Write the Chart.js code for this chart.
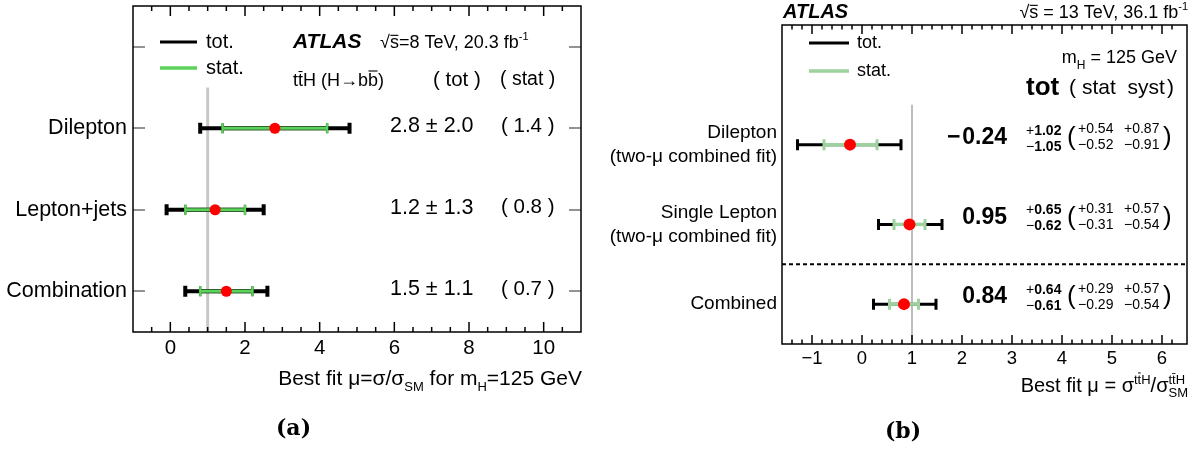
<!DOCTYPE html>
<html>
<head>
<meta charset="utf-8">
<script src="https://cdn.jsdelivr.net/npm/chart.js@4.4.0/dist/chart.umd.min.js"></script>
<style>
  body { margin: 0; background: #fff; }
  .panel { position: absolute; top: 0; height: 450px; }
  #pa { left: 0; width: 600px; }
  #pb { left: 600px; width: 603px; }
</style>
</head>
<body>
<div class="panel" id="pa"><canvas id="chartA"></canvas></div>
<div class="panel" id="pb"><canvas id="chartB"></canvas></div>
<script>
// ttH (H->bb) at 8 TeV
const catsA = ['Dilepton', 'Lepton+jets', 'Combination']
const muA = [2.8, 1.2, 1.5]
const totA = [2.0, 1.3, 1.1]
const statA = [1.4, 0.8, 0.7]
const ticksA = [0, 2, 4, 6, 8, 10]

// ttH at 13 TeV, two-mu combined fit
const catsB = [['Dilepton', '(two-μ combined fit)'], ['Single Lepton', '(two-μ combined fit)'], 'Combined']
const muB = [-0.24, 0.95, 0.84]
const totUpB = [1.02, 0.65, 0.64]
const totDnB = [1.05, 0.62, 0.61]
const statUpB = [0.54, 0.31, 0.29]
const statDnB = [0.52, 0.31, 0.29]
const systUpB = [0.87, 0.57, 0.57]
const systDnB = [0.91, 0.54, 0.54]
const ticksB = [-1, 0, 1, 2, 3, 4, 5, 6]

const FAM = '"Liberation Sans", Arial, Helvetica, sans-serif'
Chart.defaults.font.family = FAM
Chart.defaults.color = '#000'

const minus = v => (v < 0 ? '\u2212\u200A' : '') + Math.abs(v).toFixed(2)

function text(ctx, s, x, y, size, opts = {}) {
  ctx.font = `${opts.w || ''} ${size}px ${opts.fam || FAM}`
  ctx.textAlign = opts.align || 'left'
  ctx.textBaseline = 'middle'
  ctx.fillStyle = '#000'
  ctx.fillText(s, x, y)
}

// rich text: parts = {t, s, w, dy, bar, keep}; y is the middle of the main line
function rich(ctx, parts, x, y, align) {
  let total = 0, prevW = 0
  for (const p of parts) {
    ctx.font = `${p.w || ''} ${p.s}px ${FAM}`
    p._w = ctx.measureText(p.t).width
    p._x = total
    if (p.keep) { prevW = p._w; continue }
    total += prevW ? Math.max(prevW, p._w) : p._w
    prevW = 0
  }
  const x0 = align === 'right' ? x - total : align === 'center' ? x - total / 2 : x
  const base = y + parts[0].s * 0.35
  ctx.textAlign = 'left'
  ctx.textBaseline = 'alphabetic'
  ctx.fillStyle = '#000'
  ctx.strokeStyle = '#000'
  for (const p of parts) {
    ctx.font = `${p.w || ''} ${p.s}px ${FAM}`
    const py = base + (p.dy || 0)
    ctx.fillText(p.t, x0 + p._x, py)
    if (p.bar) {
      ctx.lineWidth = Math.max(1, p.s / 16)
      ctx.beginPath()
      ctx.moveTo(x0 + p._x + 0.5, py - p.s * p.bar)
      ctx.lineTo(x0 + p._x + p._w - 0.5, py - p.s * p.bar)
      ctx.stroke()
    }
  }
}

function errBar(ctx, xs, ys, lo, hi, row, color, lw, cap, capW) {
  const y = ys.getPixelForValue(row)
  const x0 = xs.getPixelForValue(lo)
  const x1 = xs.getPixelForValue(hi)
  ctx.save()
  ctx.strokeStyle = color
  ctx.lineWidth = lw
  ctx.beginPath()
  ctx.moveTo(x0, y)
  ctx.lineTo(x1, y)
  ctx.stroke()
  ctx.lineWidth = capW
  ctx.beginPath()
  ctx.moveTo(x0, y - cap); ctx.lineTo(x0, y + cap)
  ctx.moveTo(x1, y - cap); ctx.lineTo(x1, y + cap)
  ctx.stroke()
  ctx.restore()
}

// inward tick marks along the top and bottom edges of the plot box
function xTickMarks(chart, o) {
  const ctx = chart.ctx
  const a = chart.chartArea
  const xs = chart.scales.x
  ctx.save()
  ctx.strokeStyle = '#000'
  ctx.lineWidth = 1.5
  const n = Math.round((o.max - o.min) / o.minor)
  for (let k = 1; k < n; k++) {
    const v = o.min + k * o.minor
    const px = xs.getPixelForValue(v)
    const major = Math.abs(v / o.major - Math.round(v / o.major)) < 1e-6
    const len = major ? o.majLen : o.minLen
    ctx.beginPath()
    ctx.moveTo(px, a.bottom)
    ctx.lineTo(px, a.bottom - len)
    ctx.stroke()
    ctx.beginPath()
    ctx.moveTo(px, a.top)
    ctx.lineTo(px, a.top + len)
    ctx.stroke()
  }
  ctx.restore()
}

// box frame, with optional row ticks on the left/right edges
function frame(chart, o) {
  const ctx = chart.ctx
  const a = chart.chartArea
  const ys = chart.scales.y
  ctx.save()
  if (o.yTicks) {
    ctx.fillStyle = '#666'
    for (const r of o.yTicks) {
      const py = Math.round(ys.getPixelForValue(r))
      ctx.fillRect(a.left, py - 0.7, o.yLen, 1.4)
      ctx.fillRect(a.right - o.yLen, py - 0.7, o.yLen, 1.4)
    }
  }
  ctx.strokeStyle = '#000'
  ctx.lineWidth = 1.5
  ctx.strokeRect(a.left, a.top, a.right - a.left, a.bottom - a.top)
  ctx.restore()
}

function baseOptions(o) {
  return {
    responsive: true,
    maintainAspectRatio: false,
    animation: false,
    events: [],
    layout: { padding: o.padding },
    plugins: { legend: { display: false }, tooltip: { enabled: false } },
    scales: {
      x: {
        type: 'linear', min: o.xMin, max: o.xMax,
        afterBuildTicks: s => { s.ticks = o.xTicks.map(v => ({ value: v })) },
        afterFit: s => { s.height = o.xHeight; s.paddingLeft = 0; s.paddingRight = 0 },
        grid: { display: false, drawTicks: false },
        border: { display: false },
        ticks: {
          font: { size: o.xFont }, color: '#000', padding: o.xPad, maxRotation: 0, autoSkip: false,
          callback: v => (v < 0 ? '\u2212' + Math.abs(v) : String(v))
        }
      },
      y: {
        type: 'linear', min: -0.5, max: 3.5,
        afterBuildTicks: s => { s.ticks = o.cats.map((c, i) => ({ value: o.cats.length - 1 - i })) },
        afterFit: s => { s.width = o.yWidth; s.paddingTop = 0; s.paddingBottom = 0 },
        grid: { display: false, drawTicks: false },
        border: { display: false },
        ticks: {
          font: { size: o.yFont, lineHeight: o.yLine }, color: '#000', padding: o.yPad, autoSkip: false,
          callback: v => o.cats[o.cats.length - 1 - v]
        }
      }
    }
  }
}

function points(mu, r) {
  return [{
    data: mu.map((m, i) => ({ x: m, y: mu.length - 1 - i })),
    backgroundColor: '#ff0000', borderColor: '#ff0000', borderWidth: 0,
    pointRadius: r, pointHoverRadius: r
  }]
}

// ---------- panel (a) ----------
const rowA = i => catsA.length - 1 - i
new Chart(document.getElementById('chartA'), {
  type: 'scatter',
  data: { datasets: points(muA, 5.5) },
  options: baseOptions({
    padding: { left: 0, right: 19, top: 6, bottom: 0 },
    xMin: -1, xMax: 11, xTicks: ticksA, xHeight: 118, xFont: 20.5, xPad: 4,
    cats: catsA, yWidth: 133, yFont: 21.5, yLine: 1.2, yPad: 6
  }),
  plugins: [{
    id: 'muA',
    beforeDatasetsDraw(chart) {
      const { ctx, scales: { x, y } } = chart
      ctx.save()
      ctx.strokeStyle = '#c8c8c8'
      ctx.lineWidth = 3
      ctx.beginPath()
      ctx.moveTo(x.getPixelForValue(1), y.getPixelForValue(2.5))
      ctx.lineTo(x.getPixelForValue(1), y.getPixelForValue(-0.5))
      ctx.stroke()
      ctx.restore()
      catsA.forEach((c, i) => {
        errBar(ctx, x, y, muA[i] - totA[i], muA[i] + totA[i], rowA(i), '#000', 4, 5.5, 4)
        errBar(ctx, x, y, muA[i] - statA[i], muA[i] + statA[i], rowA(i), '#2a6e2a', 4, 5, 2.5)
        errBar(ctx, x, y, muA[i] - statA[i], muA[i] + statA[i], rowA(i), '#5bd35b', 2.5, 5, 2)
      })
    },
    afterDraw(chart) {
      const { ctx, scales: { y } } = chart
      xTickMarks(chart, { min: -1, max: 11, minor: 0.5, major: 2, majLen: 10, minLen: 5 })
      frame(chart, { yTicks: [0, 1, 2, 3], yLen: 12 })
      ctx.save()
      // legend
      ctx.lineWidth = 3
      ctx.strokeStyle = '#000'
      ctx.beginPath(); ctx.moveTo(160, 42); ctx.lineTo(197, 42); ctx.stroke()
      ctx.strokeStyle = '#5bd35b'
      ctx.lineWidth = 3.5
      ctx.beginPath(); ctx.moveTo(160, 68); ctx.lineTo(197, 68); ctx.stroke()
      text(ctx, 'tot.', 206, 42, 20)
      text(ctx, 'stat.', 206, 68, 20)
      text(ctx, 'ATLAS', 293, 42, 21, { w: 'italic bold' })
      rich(ctx, [
        { t: '\u221A', s: 18 }, { t: 's', s: 18, bar: 0.72 },
        { t: '=8 TeV, 20.3 fb', s: 18 }, { t: '-1', s: 11, dy: -8 }
      ], 380, 42)
      rich(ctx, [
        { t: 't', s: 18 }, { t: 't', s: 18, bar: 0.82 }, { t: 'H (H\u2192b', s: 18 },
        { t: 'b', s: 18, bar: 0.85 }, { t: ')', s: 18 }
      ], 293, 80)
      text(ctx, '( tot )', 433, 80, 20.5)
      text(ctx, '( stat )', 500, 80, 19.5)
      catsA.forEach((c, i) => {
        const py = y.getPixelForValue(rowA(i)) - 2
        text(ctx, `${muA[i].toFixed(1)} \u00B1 ${totA[i].toFixed(1)}`, 390, py, 21.5)
        text(ctx, `( ${statA[i].toFixed(1)} )`, 501, py, 20.5)
      })
      rich(ctx, [
        { t: 'Best fit \u03BC=\u03C3/\u03C3', s: 21 }, { t: 'SM', s: 13, dy: 6 },
        { t: ' for m', s: 21 }, { t: 'H', s: 13, dy: 6 }, { t: '=125 GeV', s: 21 }
      ], 582, 378, 'right')
      text(ctx, '(a)', 293.5, 429, 22, { w: 'bold', fam: '"DejaVu Serif", "Liberation Serif", serif', align: 'center' })
      ctx.restore()
    }
  }]
})

// ---------- panel (b) ----------
const rowB = i => catsB.length - 1 - i
new Chart(document.getElementById('chartB'), {
  type: 'scatter',
  data: { datasets: points(muB, 6) },
  options: baseOptions({
    padding: { left: 0, right: 16, top: 25, bottom: 0 },
    xMin: -1.6, xMax: 6.5, xTicks: ticksB, xHeight: 106, xFont: 18.5, xPad: 4,
    cats: catsB, yWidth: 182, yFont: 19, yLine: 1.27, yPad: 5
  }),
  plugins: [{
    id: 'muB',
    beforeDatasetsDraw(chart) {
      const { ctx, chartArea: a, scales: { x, y } } = chart
      ctx.save()
      ctx.strokeStyle = '#bdbdbd'
      ctx.lineWidth = 2
      ctx.beginPath()
      ctx.moveTo(x.getPixelForValue(1), y.getPixelForValue(2.5))
      ctx.lineTo(x.getPixelForValue(1), y.getPixelForValue(-0.5))
      ctx.stroke()
      // separator between channels and combination
      ctx.strokeStyle = '#000'
      ctx.setLineDash([4, 3])
      ctx.beginPath()
      ctx.moveTo(a.left, y.getPixelForValue(0.5))
      ctx.lineTo(a.right, y.getPixelForValue(0.5))
      ctx.stroke()
      ctx.restore()
      catsB.forEach((c, i) => {
        errBar(ctx, x, y, muB[i] - totDnB[i], muB[i] + totUpB[i], rowB(i), '#000', 3, 5.5, 3)
        errBar(ctx, x, y, muB[i] - statDnB[i], muB[i] + statUpB[i], rowB(i), '#9dd19d', 3.5, 5.5, 3)
      })
    },
    afterDraw(chart) {
      const { ctx, scales: { y } } = chart
      xTickMarks(chart, { min: -1.6, max: 6.5, minor: 0.2, major: 1, majLen: 9, minLen: 4.5 })
      frame(chart, {})
      ctx.save()
      text(ctx, 'ATLAS', 183, 12, 20, { w: 'italic bold' })
      rich(ctx, [
        { t: '\u221A', s: 18 }, { t: 's', s: 18, bar: 0.72 },
        { t: ' = 13 TeV, 36.1 fb', s: 18 }, { t: '-1', s: 11, dy: -8 }
      ], 588, 12, 'right')
      ctx.lineWidth = 3
      ctx.strokeStyle = '#000'
      ctx.beginPath(); ctx.moveTo(209, 43); ctx.lineTo(249, 43); ctx.stroke()
      ctx.strokeStyle = '#9dd19d'
      ctx.lineWidth = 3.5
      ctx.beginPath(); ctx.moveTo(209, 71); ctx.lineTo(249, 71); ctx.stroke()
      text(ctx, 'tot.', 257, 43, 18)
      text(ctx, 'stat.', 257, 71, 18)
      rich(ctx, [{ t: 'm', s: 18 }, { t: 'H', s: 12, dy: 6 }, { t: ' = 125 GeV', s: 18 }], 577, 57, 'right')
      text(ctx, 'tot', 426, 88, 26, { w: 'bold' })
      text(ctx, '(', 469, 88, 21)
      text(ctx, 'stat  syst', 482, 88, 21)
      text(ctx, ')', 567, 88, 21)
      catsB.forEach((c, i) => {
        const py = y.getPixelForValue(rowB(i)) - 7
        text(ctx, minus(muB[i]), 407, py, 23, { w: 'bold', align: 'right' })
        rich(ctx, [{ t: '+', s: 14 }, { t: totUpB[i].toFixed(2), s: 14, w: 'bold' }], 426, py - 8)
        rich(ctx, [{ t: '\u2212', s: 14 }, { t: totDnB[i].toFixed(2), s: 14, w: 'bold' }], 426, py + 8)
        text(ctx, '(', 467, py, 26)
        text(ctx, '+' + statUpB[i].toFixed(2), 478, py - 8, 14)
        text(ctx, '\u2212' + statDnB[i].toFixed(2), 478, py + 8, 14)
        text(ctx, '+' + systUpB[i].toFixed(2), 524, py - 8, 14)
        text(ctx, '\u2212' + systDnB[i].toFixed(2), 524, py + 8, 14)
        text(ctx, ')', 563, py, 26)
      })
      rich(ctx, [
        { t: 'Best fit \u03BC = \u03C3', s: 20 },
        { t: 't', s: 13, dy: -8 }, { t: 't', s: 13, dy: -8, bar: 0.85 }, { t: 'H', s: 13, dy: -8 },
        { t: '/\u03C3', s: 20 },
        { t: 'tt\u0304H', s: 13, dy: -8, keep: true }, { t: 'SM', s: 13, dy: 5 }
      ], 588, 385, 'right')
      text(ctx, '(b)', 303, 432, 22, { w: 'bold', fam: '"DejaVu Serif", "Liberation Serif", serif', align: 'center' })
      ctx.restore()
    }
  }]
})
</script>
</body>
</html>
